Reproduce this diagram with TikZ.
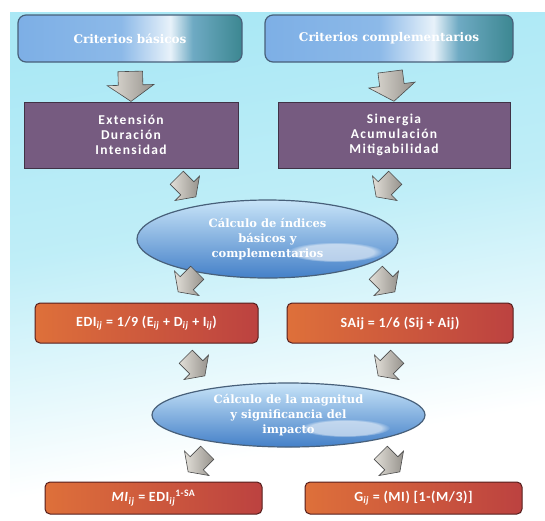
\documentclass[tikz,border=0pt]{standalone}
\usepackage{fontspec}
\setmainfont{Carlito}
\newfontfamily\serifb{DejaVu Serif}
\usetikzlibrary{shapes.geometric,shapes.arrows,fadings,calc}
\definecolor{bgcyan}{RGB}{170,232,245}
\definecolor{tbA}{RGB}{125,175,230}
\definecolor{tbB}{RGB}{140,185,232}
\definecolor{tbC}{RGB}{232,242,250}
\definecolor{tbD}{RGB}{110,170,195}
\definecolor{tbE}{RGB}{60,135,145}
\definecolor{purp}{RGB}{118,91,128}
\definecolor{orA}{RGB}{222,112,58}
\definecolor{orB}{RGB}{188,66,64}
\definecolor{elA}{RGB}{200,228,248}
\definecolor{elB}{RGB}{68,128,200}
\definecolor{arA}{RGB}{226,223,216}
\definecolor{arB}{RGB}{150,146,140}
\definecolor{edge}{RGB}{72,96,122}
\pgfdeclarehorizontalshading{topboxsh}{100bp}{color(0bp)=(tbA); color(25bp)=(tbA); color(48bp)=(tbB); color(59bp)=(tbC); color(64bp)=(tbD); color(75bp)=(tbE); color(100bp)=(tbE)}
\pgfdeclarehorizontalshading{orboxsh}{100bp}{color(0bp)=(orA); color(25bp)=(orA); color(75bp)=(orB); color(100bp)=(orB)}
\pgfdeclareverticalshading{bgsh}{100bp}{color(0bp)=(white); color(25bp)=(white); color(32bp)=(white); color(55bp)=(bgcyan!75!white); color(75bp)=(bgcyan); color(100bp)=(bgcyan)}
\begin{document}
\begin{tikzpicture}[x=1pt,y=-1pt,
  topbox/.style={rectangle, rounded corners=8pt, shade, shading=topboxsh, draw=edge, line width=1.2pt,
    text=white, font=\serifb\bfseries\fontsize{12}{15}\selectfont, inner sep=0pt, align=center, minimum height=47pt},
  purpbox/.style={rectangle, fill=purp, draw=purp!55!black, line width=0.8pt, text=white,
    font=\bfseries\fontsize{13.5}{15}\selectfont\addfontfeature{LetterSpace=10}, align=center, inner sep=0pt, minimum height=66pt},
  orbox/.style={rectangle, rounded corners=5pt, shade, shading=orboxsh, draw=orB!45!black, line width=1pt,
    text=white, font=\bfseries\fontsize{14}{16}\selectfont\addfontfeature{LetterSpace=4}, align=center, inner sep=0pt},
  elbox/.style={ellipse, top color=elA, bottom color=elB, draw=edge, line width=1.2pt, text=white,
    font=\serifb\bfseries\fontsize{11.5}{15}\selectfont, align=center, inner sep=0pt},
  barrow/.style={single arrow, shade, left color=arA, right color=arB, draw=gray!60!black, line width=0.6pt,
    inner sep=0pt, single arrow tip angle=110, single arrow head indent=0pt},
  bigarrow/.style={barrow, inner ysep=12pt, single arrow head extend=11pt, minimum height=30pt},
  smallarrow/.style={barrow, inner ysep=9pt, single arrow head extend=8pt, minimum height=27pt}
]
\useasboundingbox (0,0) rectangle (545,520);
% background
\shade[shading=bgsh, shading angle=10] (10,12) rectangle (545,520);

% nodes
\node[topbox, minimum width=224pt] (tl) at (130,38.5) {Criterios básicos};
\node[topbox, minimum width=248pt] (tr) at (389,38.5) {Criterios complementarios};
\node[purpbox, minimum width=214pt] (pl) at (131,135) {Extensión\\Duración\\Intensidad};
\node[purpbox, minimum width=232pt] (pr) at (394,135) {Sinergia\\Acumulación\\Mitigabilidad};
\node[elbox, minimum width=261pt, minimum height=78pt] (e1) at (267.5,239) {Cálculo de índices\\básicos y\\complementarios};
\node[orbox, minimum width=223pt, minimum height=40pt] (ol) at (146.5,323)
  {EDI\textsubscript{\itshape ij} = 1/9 (E\textsubscript{\itshape ij} + D\textsubscript{\itshape ij} + I\textsubscript{\itshape ij})};
\node[orbox, minimum width=226pt, minimum height=40pt] (or) at (400,323) {SAij = 1/6 (Sij + Aij)};
\node[elbox, minimum width=273pt, minimum height=64pt] (e2) at (288.5,415) {Cálculo de la magnitud\\y significancia del\\impacto};
\node[orbox, minimum width=217pt, minimum height=32pt] (bl) at (153.5,498)
  {\textit{MI}\textsubscript{\itshape ij} = EDI\textsubscript{\itshape ij}\textsuperscript{1-SA}};
\node[orbox, minimum width=217pt, minimum height=32pt] (br) at (413.5,498)
  {G\textsubscript{\itshape ij} = (MI) [1-(M/3)]};

% glare on ellipses
\fill[white, opacity=0.55, path fading=circle with fuzzy edge 20 percent] (335,252) ellipse (48pt and 10pt);
\fill[white, opacity=0.55, path fading=circle with fuzzy edge 20 percent] (345,428) ellipse (45pt and 9pt);

% arrow end coordinates
\coordinate (a3s) at (171,172); \coordinate (a3e) at (197,198);
\coordinate (a4s) at (401,172); \coordinate (a4e) at (375,198);
\coordinate (a5s) at (203,267); \coordinate (a5e) at (177,293);
\coordinate (a6s) at (370,267); \coordinate (a6e) at (396,293);
\coordinate (a7s) at (180,351); \coordinate (a7e) at (206,377);
\coordinate (a8s) at (403,351); \coordinate (a8e) at (377,377);
\coordinate (a9s) at (213,447); \coordinate (a9e) at (187,473);
\coordinate (a10s) at (375,447); \coordinate (a10e) at (401,473);

% block arrows
\path let \p1=(tl.south), \p2=(pl.north), \n1={atan2(\y2-\y1,\x2-\x1)} in
  node[bigarrow, rotate=\n1] (a1) at ($(\p1)!0.5!(\p2)$) {};
\path let \p1=(tr.south), \p2=(pr.north), \n1={atan2(\y2-\y1,\x2-\x1)} in
  node[bigarrow, rotate=\n1] (a2) at ($(\p1)!0.5!(\p2)$) {};
\foreach \k in {3,...,10}{
  \path let \p1=(a\k s), \p2=(a\k e), \n1={atan2(\y2-\y1,\x2-\x1)} in
    node[smallarrow, rotate=\n1] (a\k) at ($(\p1)!0.5!(\p2)$) {};
}
\end{tikzpicture}
\end{document}
